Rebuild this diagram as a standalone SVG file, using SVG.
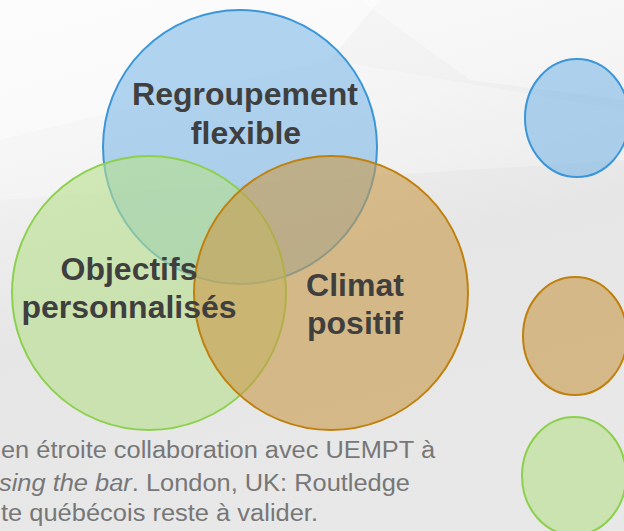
<svg xmlns="http://www.w3.org/2000/svg" width="624" height="531" viewBox="0 0 624 531">
<defs>
<linearGradient id="bg" x1="0" y1="0" x2="0.3" y2="1">
<stop offset="0" stop-color="#f9f9f9"/>
<stop offset="0.3" stop-color="#f2f2f2"/>
<stop offset="0.6" stop-color="#e6e6e6"/>
<stop offset="1" stop-color="#e8e8e8"/>
</linearGradient>
<style>
.blue{fill:#66aee3;fill-opacity:0.5;stroke:#3a96d8;stroke-width:2}
.green{fill:#b7df8a;fill-opacity:0.6;stroke:#8dd050;stroke-width:2}
.brown{fill:#c99a4a;fill-opacity:0.6;stroke:#c0800e;stroke-width:2}
.lbl{font-family:"Liberation Sans",Arial,sans-serif;font-weight:bold;font-size:32px;fill:#3f3f3f;text-anchor:middle}
.note{font-family:"Liberation Sans",Arial,sans-serif;font-size:23px;fill:#777777}
</style>
</defs>
<rect width="624" height="531" fill="url(#bg)"/>
<polygon points="0,0 380,0 330,60 0,140" fill="#ffffff" fill-opacity="0.5"/>
<polygon points="0,140 330,60 624,110 624,160 0,200" fill="#ffffff" fill-opacity="0.25"/>
<polygon points="360,0 624,0 624,100 470,80" fill="#ffffff" fill-opacity="0.35"/>
<g id="regroupement">
<circle class="blue" cx="240" cy="147" r="137"/>
</g>
<g id="objectifs">
<circle class="green" cx="149" cy="293" r="137"/>
</g>
<g id="climat">
<circle class="brown" cx="331" cy="293" r="137"/>
</g>
<g id="labels">
<text class="lbl" x="245" y="105">Regroupement</text>
<text class="lbl" x="246" y="144">flexible</text>
<text class="lbl" x="129" y="280">Objectifs</text>
<text class="lbl" x="129" y="318">personnalisés</text>
<text class="lbl" x="355" y="296">Climat</text>
<text class="lbl" x="355" y="334">positif</text>
</g>
<g id="legend-blue"><ellipse class="blue" cx="577" cy="118" rx="52" ry="59"/></g>
<g id="legend-brown"><ellipse class="brown" cx="575" cy="336" rx="52" ry="59"/></g>
<g id="legend-green"><ellipse class="green" cx="574" cy="476" rx="52" ry="59"/></g>
<g id="note">
<text class="note" x="1" y="458" textLength="434" lengthAdjust="spacingAndGlyphs">en étroite collaboration avec UEMPT à</text>
<text class="note" x="-1" y="491" textLength="411" lengthAdjust="spacingAndGlyphs"><tspan font-style="italic">sing the bar</tspan>. London, UK: Routledge</text>
<text class="note" x="1" y="521" textLength="317" lengthAdjust="spacingAndGlyphs">te québécois reste à valider.</text>
</g>
<g id="connectors"/>
</svg>
